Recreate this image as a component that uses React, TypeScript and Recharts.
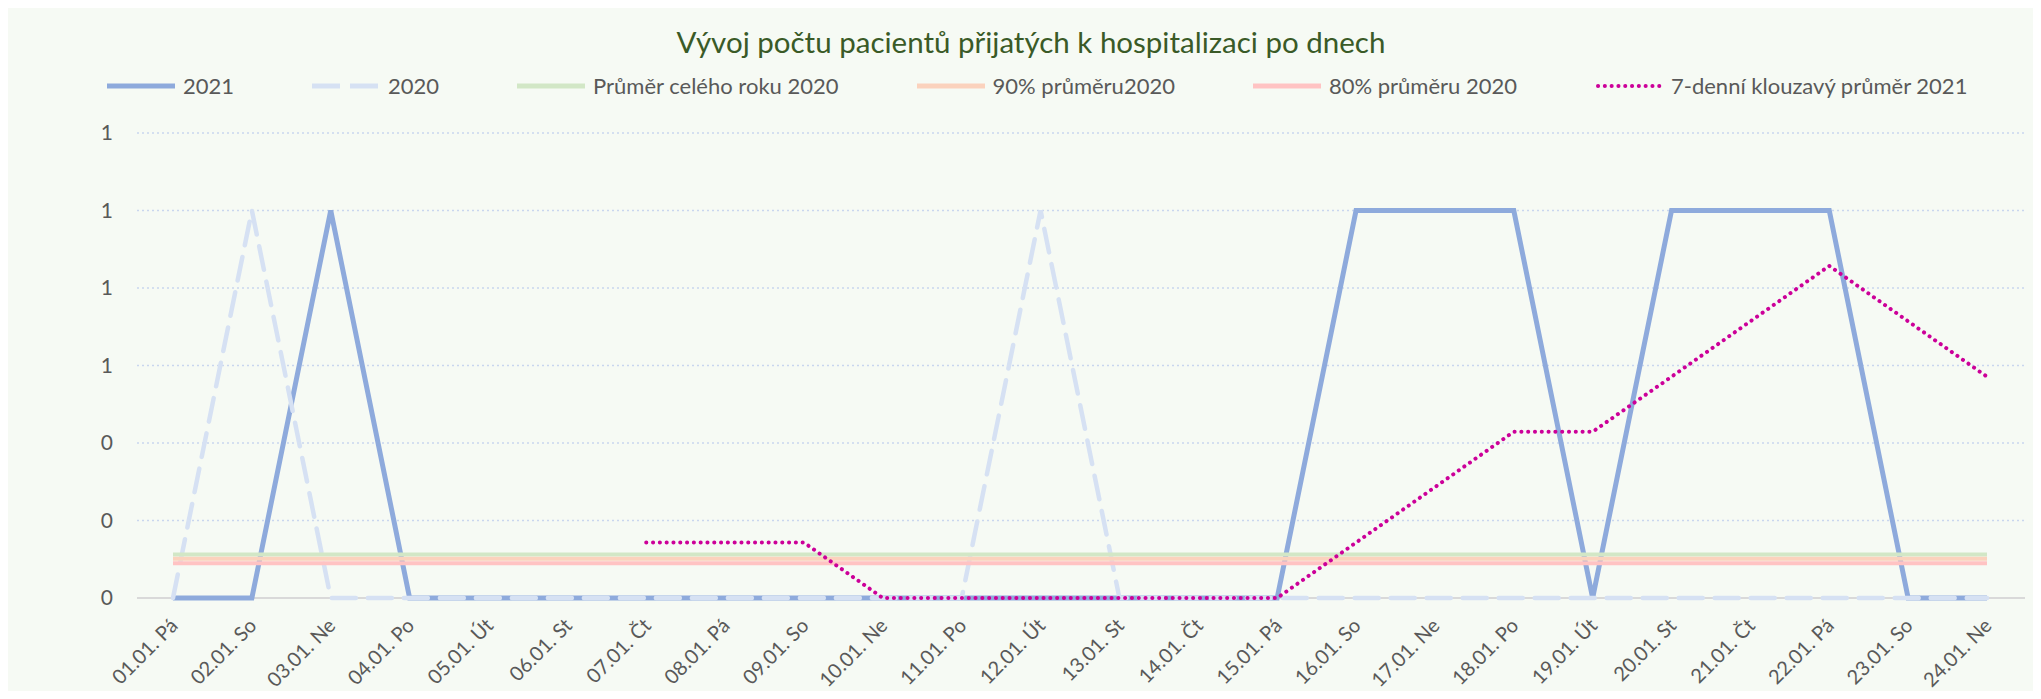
import { LineChart, Line, XAxis, YAxis, CartesianGrid, ReferenceLine } from "recharts";

const days = [
  "01.01. Pá", "02.01. So", "03.01. Ne", "04.01. Po", "05.01. Út", "06.01. St",
  "07.01. Čt", "08.01. Pá", "09.01. So", "10.01. Ne", "11.01. Po", "12.01. Út",
  "13.01. St", "14.01. Čt", "15.01. Pá", "16.01. So", "17.01. Ne", "18.01. Po",
  "19.01. Út", "20.01. St", "21.01. Čt", "22.01. Pá", "23.01. So", "24.01. Ne",
];

const pacienti2021 = [0, 0, 1, 0, 0, 0, 0, 0, 0, 0, 0, 0, 0, 0, 0, 1, 1, 1, 0, 1, 1, 1, 0, 0];
const pacienti2020 = [0, 1, 0, 0, 0, 0, 0, 0, 0, 0, 0, 1, 0, 0, 0, 0, 0, 0, 0, 0, 0, 0, 0, 0];
// 7-denní klouzavý průměr 2021 (first six days have no value)
const klouzavy2021 = [
  null, null, null, null, null, null, 0.143, 0.143, 0.143, 0, 0, 0,
  0, 0, 0, 0.143, 0.286, 0.429, 0.429, 0.571, 0.714, 0.857, 0.714, 0.571,
];
const prumer2020 = 0.112;
const prumer90 = 0.101;
const prumer80 = 0.09;

const yTicks = [0, 0.2, 0.4, 0.6, 0.8, 1, 1.2];

const data = days.map((d, i) => ({
  den: d,
  r2021: pacienti2021[i],
  r2020: pacienti2020[i],
  avg: prumer2020,
  p90: prumer90,
  p80: prumer80,
  ma: klouzavy2021[i],
}));

const FONT = "Lato, 'Open Sans', sans-serif";
const TEXT = "#595959";

const legendItems = [
  { label: "2021", color: "#8eaadc", dash: undefined, cap: "butt" },
  { label: "2020", color: "#d6e1f3", dash: "28 10", cap: "butt" },
  { label: "Průměr celého roku 2020", color: "#d2e7c6", dash: undefined, cap: "butt" },
  { label: "90% průměru2020", color: "#fbd2bd", dash: undefined, cap: "butt" },
  { label: "80% průměru 2020", color: "#ffc3c3", dash: undefined, cap: "butt" },
  { label: "7-denní klouzavý průměr 2021", color: "#cc0099", dash: "0.1 6.7", cap: "round" },
];

const XTick = ({ x, y, payload }: any) => (
  <g transform={`translate(${x + 6},${y + 27})`}>
    <text
      x={0}
      y={0}
      textAnchor="end"
      transform="rotate(-45)"
      fill={TEXT}
      fontSize={20}
      fontFamily={FONT}
    >
      {payload.value}
    </text>
  </g>
);

export default function App() {
  return (
    <div
      style={{
        position: "relative",
        margin: -8,
        width: 2041,
        height: 699,
        background: "#f6faf4",
        borderTop: "1px dashed #d4d4d4",
        boxSizing: "border-box",
        fontFamily: FONT,
        overflow: "hidden",
      }}
    >
      <div
        style={{
          position: "absolute",
          top: 23,
          left: 0,
          width: 2062,
          textAlign: "center",
          fontSize: 29.5,
          lineHeight: "36px",
          color: "#3a5a27",
        }}
      >
        Vývoj počtu pacientů přijatých k hospitalizaci po dnech
      </div>
      <div
        style={{
          position: "absolute",
          top: 71,
          left: 107,
          display: "flex",
          alignItems: "center",
          gap: 78,
          fontSize: 22,
          lineHeight: "28px",
          color: TEXT,
          whiteSpace: "nowrap",
        }}
      >
        {legendItems.map((it) => (
          <div key={it.label} style={{ display: "flex", alignItems: "center", gap: 8 }}>
            <svg width={68} height={10}>
              <line
                x1={it.cap === "round" ? 3 : 0}
                y1={5}
                x2={it.cap === "round" ? 65 : 68}
                y2={5}
                stroke={it.color}
                strokeWidth={it.cap === "round" ? 4 : 5}
                strokeDasharray={it.dash}
                strokeLinecap={it.cap as any}
              />
            </svg>
            <span>{it.label}</span>
          </div>
        ))}
      </div>
      <LineChart
        width={2041}
        height={698}
        data={data}
        margin={{ top: 132, right: 16, left: 77, bottom: 11 }}
        style={{ overflow: "visible" }}
      >
        <CartesianGrid
          vertical={false}
          stroke="#c9d6ee"
          strokeDasharray="2 3"
          strokeWidth={1.5}
        />
        <XAxis
          dataKey="den"
          axisLine={false}
          tickLine={false}
          tickSize={0}
          interval={0}
          height={90}
          padding={{ left: 36, right: 38 }}
          tick={<XTick />}
        />
        <YAxis
          domain={[0, 1.2]}
          ticks={yTicks}
          width={60}
          axisLine={false}
          tickLine={false}
          tickSize={0}
          tickMargin={24}
          tickFormatter={(v: number) => String(Math.round(v))}
          tick={{ fill: TEXT, fontSize: 21, fontFamily: FONT }}
        />
        <ReferenceLine y={0} stroke="#d9d9d9" strokeWidth={2} />
        <Line
          dataKey="r2021"
          stroke="#8eaadc"
          strokeWidth={5}
          dot={false}
          isAnimationActive={false}
          type="linear"
        />
        <Line
          dataKey="r2020"
          stroke="#d6e1f3"
          strokeWidth={4.5}
          strokeDasharray="24 12"
          strokeLinecap="round"
          dot={false}
          isAnimationActive={false}
          type="linear"
        />
        <Line dataKey="avg" stroke="#d2e7c6" strokeWidth={4} dot={false} isAnimationActive={false} />
        <Line dataKey="p90" stroke="#fbd2bd" strokeWidth={4} dot={false} isAnimationActive={false} />
        <Line dataKey="p80" stroke="#ffc3c3" strokeWidth={4} dot={false} isAnimationActive={false} />
        <Line
          dataKey="ma"
          stroke="#cc0099"
          strokeWidth={4}
          strokeDasharray="0.1 6.7"
          strokeLinecap="round"
          dot={false}
          isAnimationActive={false}
          type="linear"
        />
      </LineChart>
    </div>
  );
}
